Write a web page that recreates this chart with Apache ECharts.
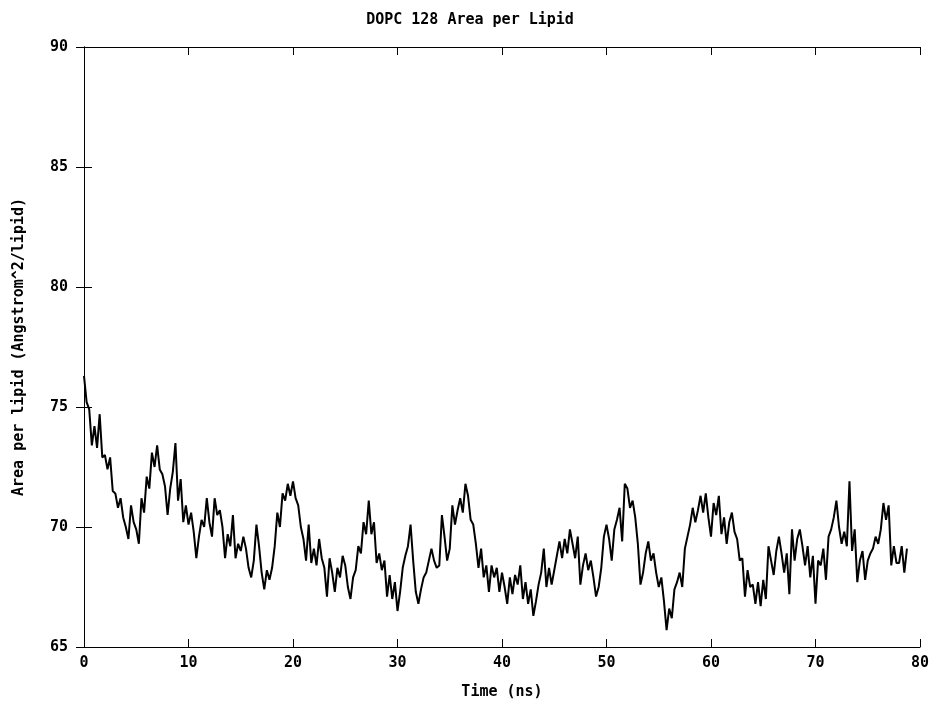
<!DOCTYPE html>
<html>
<head>
<meta charset="utf-8">
<script src="https://cdn.jsdelivr.net/npm/echarts@6/dist/echarts.min.js"></script>
<style>
  html, body { margin: 0; padding: 0; background: #fff; }
  #main { width: 940px; height: 711px; }
</style>
</head>
<body>
<div id="main"></div>
<script>
// area per lipid, one sample every 0.25 ns
var timeStep = 0.25;
var areaPerLipid = [
  76.3, 75.2, 74.9, 73.4, 74.2, 73.3, 74.7, 72.9,
  73.0, 72.4, 72.9, 71.5, 71.4, 70.8, 71.2, 70.4,
  70.0, 69.5, 70.9, 70.2, 69.9, 69.3, 71.2, 70.6,
  72.1, 71.6, 73.1, 72.5, 73.4, 72.4, 72.2, 71.7,
  70.5, 71.6, 72.3, 73.5, 71.1, 72.0, 70.2, 70.9,
  70.1, 70.6, 69.8, 68.7, 69.6, 70.3, 70.0, 71.2,
  70.2, 69.6, 71.2, 70.5, 70.7, 70.0, 68.7, 69.7,
  69.2, 70.5, 68.7, 69.3, 69.0, 69.6, 69.1, 68.3,
  67.9, 68.6, 70.1, 69.2, 68.1, 67.4, 68.2, 67.8,
  68.3, 69.2, 70.6, 70.0, 71.4, 71.1, 71.8, 71.3,
  71.9, 71.2, 70.9, 70.0, 69.5, 68.6, 70.1, 68.5,
  69.1, 68.4, 69.5, 68.7, 68.3, 67.1, 68.7, 68.1,
  67.3, 68.3, 67.9, 68.8, 68.4, 67.5, 67.0, 67.9,
  68.2, 69.2, 68.9, 70.2, 69.7, 71.1, 69.7, 70.2,
  68.5, 68.9, 68.2, 68.6, 67.1, 68.0, 67.0, 67.7,
  66.5, 67.3, 68.3, 68.8, 69.2, 70.1, 68.6, 67.3,
  66.8, 67.4, 67.9, 68.1, 68.6, 69.1, 68.6, 68.3,
  68.4, 70.5, 69.6, 68.6, 69.1, 70.9, 70.1, 70.7,
  71.2, 70.6, 71.8, 71.3, 70.3, 70.1, 69.3, 68.3,
  69.1, 67.9, 68.4, 67.3, 68.4, 67.9, 68.3, 67.3,
  68.1, 67.5, 66.8, 67.9, 67.2, 68.0, 67.6, 68.4,
  67.0, 67.7, 66.8, 67.4, 66.3, 66.9, 67.6, 68.1,
  69.1, 67.5, 68.3, 67.6, 68.2, 68.8, 69.4, 68.7,
  69.5, 68.9, 69.9, 69.3, 68.7, 69.6, 67.6, 68.4,
  68.9, 68.2, 68.6, 67.9, 67.1, 67.5, 68.3, 69.6,
  70.1, 69.5, 68.6, 69.9, 70.3, 70.8, 69.4, 71.8,
  71.6, 70.8, 71.1, 70.4, 69.3, 67.6, 68.1, 68.9,
  69.4, 68.6, 68.9, 68.1, 67.5, 67.9, 66.9, 65.7,
  66.6, 66.2, 67.4, 67.7, 68.1, 67.5, 69.1, 69.6,
  70.1, 70.8, 70.2, 70.7, 71.3, 70.6, 71.4, 70.4,
  69.6, 71.0, 70.5, 71.3, 69.7, 70.4, 69.3, 70.2,
  70.6, 69.8, 69.5, 68.6, 68.7, 67.1, 68.2, 67.5,
  67.6, 66.8, 67.7, 66.7, 67.8, 67.0, 69.2, 68.6,
  68.0, 69.0, 69.6, 68.9, 68.1, 68.9, 67.2, 69.9,
  68.6, 69.5, 69.9, 69.2, 68.4, 69.2, 67.9, 68.8,
  66.8, 68.6, 68.4, 69.1, 67.8, 69.6, 69.9, 70.4,
  71.1, 70.0, 69.3, 69.8, 69.2, 71.9, 69.0, 69.9,
  67.7, 68.6, 69.0, 67.8, 68.6, 68.9, 69.1, 69.6,
  69.3, 69.9, 71.0, 70.3, 70.9, 68.4, 69.2, 68.5,
  68.5, 69.2, 68.1, 69.1
];
var xTicks = [0, 10, 20, 30, 40, 50, 60, 70, 80];
var yTicks = [65, 70, 75, 80, 85, 90];

var seriesData = areaPerLipid.map(function (v, i) {
    return [i * timeStep, v];
});

var font = '"DejaVu Sans Mono", monospace';
var txt = { fontFamily: font, fontSize: 15, fontWeight: 'bold', color: '#000' };
var myChart = echarts.init(document.getElementById('main'));
var option = {
    backgroundColor: '#ffffff',
    animation: false,
    title: {
        text: 'DOPC 128 Area per Lipid',
        left: 'center',
        top: 8,
        textStyle: txt
    },
    grid: { left: 84, right: 20, top: 47, bottom: 64 },
    xAxis: [
        {
            type: 'value',
            min: xTicks[0], max: xTicks[xTicks.length - 1], interval: 10,
            name: 'Time (ns)',
            nameLocation: 'middle',
            nameGap: 38,
            nameTextStyle: txt,
            axisLine: { show: true, lineStyle: { color: '#000', width: 1 } },
            axisTick: { show: true, inside: true, length: 8, lineStyle: { color: '#000' } },
            axisLabel: Object.assign({ margin: 9 }, txt),
            splitLine: { show: false }
        },
        {
            type: 'value', position: 'top',
            min: xTicks[0], max: xTicks[xTicks.length - 1], interval: 10,
            axisLine: { show: true, lineStyle: { color: '#000', width: 1 } },
            axisTick: { show: true, inside: true, length: 8, lineStyle: { color: '#000' } },
            axisLabel: { show: false },
            splitLine: { show: false }
        }
    ],
    yAxis: [
        {
            type: 'value',
            min: yTicks[0], max: yTicks[yTicks.length - 1], interval: 5,
            name: 'Area per lipid (Angstrom^2/lipid)',
            nameLocation: 'middle',
            nameGap: 57,
            nameTextStyle: txt,
            axisLine: { show: true, lineStyle: { color: '#000', width: 1 } },
            axisTick: { show: true, inside: true, length: 8, lineStyle: { color: '#000' } },
            axisLabel: Object.assign({ margin: 16 }, txt),
            splitLine: { show: false }
        },
        {
            type: 'value', position: 'right',
            min: yTicks[0], max: yTicks[yTicks.length - 1], interval: 5,
            axisLine: { show: true, lineStyle: { color: '#000', width: 1 } },
            axisTick: { show: true, inside: true, length: 8, lineStyle: { color: '#000' } },
            axisLabel: { show: false },
            splitLine: { show: false }
        }
    ],
    series: [
        {
            name: 'area per lipid',
            type: 'line',
            data: seriesData,
            showSymbol: false,
            symbol: 'none',
            lineStyle: { color: '#000', width: 2 },
            sampling: null
        }
    ]
};
myChart.setOption(option);
</script>
</body>
</html>
